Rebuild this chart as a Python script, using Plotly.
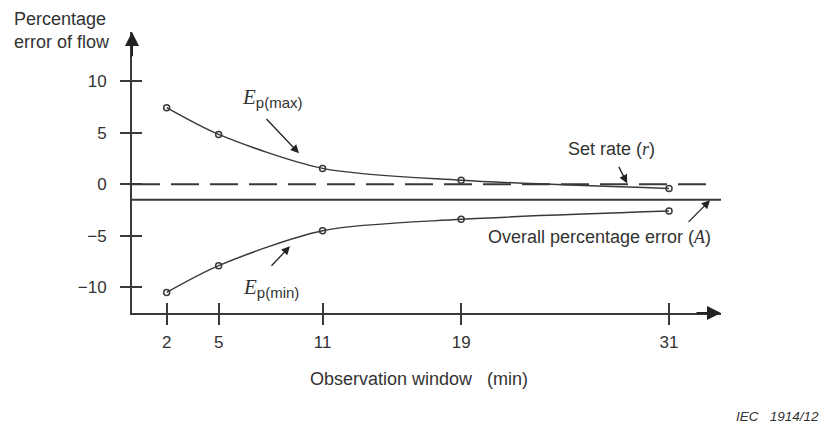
import plotly.graph_objects as go

# ---- data ----
windows = [2, 5, 11, 19, 31]
ep_max = [7.45, 4.85, 1.55, 0.4, -0.4]
ep_min = [-10.5, -7.9, -4.5, -3.4, -2.6]
set_rate = 0.0
overall_error = -1.5
x_ticks = [2, 5, 11, 19, 31]
y_ticks = [-10, -5, 0, 5, 10]

X_RANGE = [0, 34]
Y_RANGE = [-12.5, 14.8]
INK = "#3a3a3a"
FONT = "Liberation Sans, Arial, sans-serif"
SERIF = "Liberation Serif, Times New Roman, serif"

fig = go.Figure()

# reference lines
fig.add_trace(go.Scatter(x=[0, 33.7], y=[set_rate, set_rate], mode="lines",
                         line=dict(color=INK, width=2, dash="28px,11px"),
                         cliponaxis=False, hoverinfo="skip"))
fig.add_trace(go.Scatter(x=[0, 34.1], y=[overall_error, overall_error], mode="lines",
                         line=dict(color=INK, width=2),
                         cliponaxis=False, hoverinfo="skip"))

for ys in (ep_max, ep_min):
    fig.add_trace(go.Scatter(x=windows, y=ys, mode="lines+markers",
                             line=dict(color=INK, width=1.5, shape="spline", smoothing=0.8),
                             marker=dict(symbol="circle-open", size=6, color=INK,
                                         line=dict(width=1.5, color=INK)),
                             cliponaxis=False))

axis_common = dict(showgrid=False, zeroline=False, showline=True, linecolor=INK,
                   linewidth=2, tickcolor=INK, tickwidth=1.5, ticklen=10,
                   tickfont=dict(family=FONT, size=17, color="#333"))

fig.update_layout(
    width=825, height=427,
    margin=dict(l=132, r=104, t=32, b=114),
    paper_bgcolor="white", plot_bgcolor="white",
    showlegend=False,
    font=dict(family=FONT, size=17, color="#333"),
    xaxis=dict(range=X_RANGE, tickvals=x_ticks, ticks="outside", **axis_common,
               ticklabelstandoff=3),
    yaxis=dict(range=Y_RANGE, tickvals=y_ticks, ticks="outside", **axis_common,
               ticklabelstandoff=10),
    xaxis2=dict(range=X_RANGE, tickvals=x_ticks, ticks="inside", overlaying="x",
                showticklabels=False, showgrid=False, zeroline=False, showline=False,
                tickcolor=INK, tickwidth=1.5, ticklen=10, anchor="y"),
    yaxis2=dict(range=Y_RANGE, tickvals=y_ticks, ticks="inside", overlaying="y",
                showticklabels=False, showgrid=False, zeroline=False, showline=False,
                tickcolor=INK, tickwidth=1.5, ticklen=10, anchor="x"),
)
# dummy trace to show the secondary (crossing) tick axes
fig.add_trace(go.Scatter(x=[None], y=[None], xaxis="x2", yaxis="y2", hoverinfo="skip"))

def arrow(hx, hy, tx, ty, width=1.3, size=1.3):
    fig.add_annotation(x=hx, y=hy, ax=tx, ay=ty, xref="x", yref="y", axref="x", ayref="y",
                       text="", showarrow=True, arrowhead=2, arrowsize=size,
                       arrowwidth=width, arrowcolor="#222")

# axis arrowheads
arrow(X_RANGE[1], Y_RANGE[0], X_RANGE[1] - 1.5, Y_RANGE[0], width=2, size=1.4)
arrow(X_RANGE[0], Y_RANGE[1], X_RANGE[0], Y_RANGE[1] - 2.5, width=2, size=1.4)

# label arrows
arrow(9.64, 3.01, 7.68, 6.5)
arrow(9.12, -6.02, 7.97, -8.06)
arrow(28.58, 0.10, 28.06, 1.84)
arrow(33.37, -1.55, 32.04, -3.79)

def label(x, y, text, xanchor="center", size=18):
    fig.add_annotation(x=x, y=y, xref="x", yref="y", text=text, showarrow=False,
                       xanchor=xanchor, yanchor="middle",
                       font=dict(family=FONT, size=size, color="#333"))

E = f"<span style='font-family:{SERIF};font-style:italic;font-size:21px'>E</span>"
label(8.1, 8.4, E + "<sub><span style='font-size:15px'>p(max)</span></sub>")
label(8.0, -10.1, E + "<sub><span style='font-size:15px'>p(min)</span></sub>")
label(27.7, 3.4, "Set rate (<span style='font-family:" + SERIF + ";font-style:italic'>r</span>)")
label(27.0, -5.15, "Overall percentage error (<span style='font-family:" + SERIF + ";font-style:italic'>A</span>)")

# axis titles
fig.add_annotation(xref="paper", yref="paper", x=(12 - 132) / 589, y=(313 - 30) / 281,
                   xanchor="left", yanchor="middle", align="left", showarrow=False,
                   text="Percentage<br>error of flow",
                   font=dict(family=FONT, size=18, color="#333"))
fig.add_annotation(xref="paper", yref="paper", x=(419 - 132) / 589, y=(313 - 379) / 281,
                   xanchor="center", yanchor="middle", showarrow=False,
                   text="Observation window\u00a0\u00a0\u00a0(min)",
                   font=dict(family=FONT, size=18, color="#333"))
fig.add_annotation(xref="paper", yref="paper", x=(821 - 132) / 589, y=(313 - 416) / 281,
                   xanchor="right", yanchor="middle", showarrow=False,
                   text="<i>IEC\u00a0\u00a0\u00a01914/12</i>",
                   font=dict(family=FONT, size=13.5, color="#333"))

fig.write_html("out.html")
